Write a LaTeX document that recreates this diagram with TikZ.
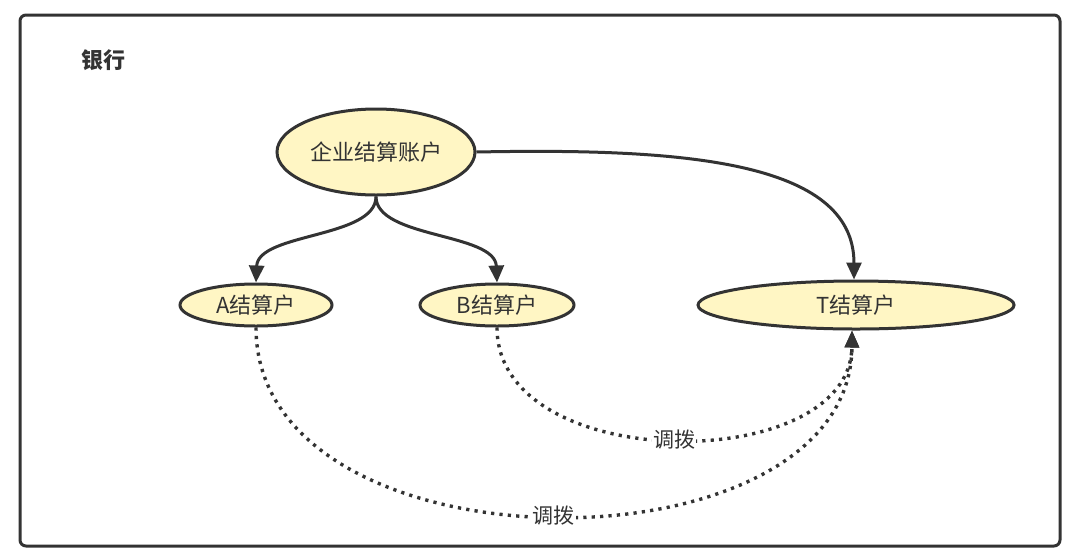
\documentclass[tikz,border=0pt]{standalone}
\usepackage{fontspec}
\setmainfont{Noto Sans CJK SC}
\usetikzlibrary{arrows.meta,shapes.geometric}
\definecolor{ink}{HTML}{333333}
\definecolor{fillY}{HTML}{FFF6C4}
\tikzset{
  acct/.style={ellipse,draw=ink,line width=3pt,fill=fillY,inner sep=0pt,font=\fontsize{22pt}{24pt}\selectfont,text=ink},
  flow/.style={draw=ink,line width=3pt,-{Triangle[length=17pt,width=15pt]}},
  xfer/.style={draw=ink,line width=3.4pt,dash pattern=on 3.2pt off 5.2pt,-{Triangle[length=17pt,width=14pt]}},
  lbl/.style={fill=white,inner sep=1pt,font=\fontsize{21pt}{23pt}\selectfont,text=ink}
}
\begin{document}
\begin{tikzpicture}[x=1pt,y=-1pt]
\useasboundingbox (0,0) rectangle (1080,558);
\draw[draw=ink,line width=3pt,rounded corners=6pt] (20,15) rectangle (1060,546);
\node[font=\bfseries\fontsize{22pt}{24pt}\selectfont,text=ink] (bank) at (103,60) {银行};
\node[acct,minimum width=198pt,minimum height=86pt] (E) at (376,152) {企业结算账户};
\node[acct,minimum width=152pt,minimum height=42pt] (A) at (256,305) {A结算户};
\node[acct,minimum width=154pt,minimum height=42pt] (B) at (497,305) {B结算户};
\node[acct,minimum width=316pt,minimum height=48pt] (T) at (856,305) {T结算户};
\draw[flow] (E.south) .. controls ++(0,42) and ++(2,-50) .. (A.north);
\draw[flow] (E.south) .. controls ++(0,42) and ++(-2,-50) .. (B.north);
\draw[flow] (E.east) .. controls (680,148) and ([xshift=-2pt]T.north |- 0,160) .. ([xshift=-2pt]T.north);
\coordinate (Tb) at ([xshift=-4pt]T.south);
\draw[xfer] (B.south) .. controls (497,476) and (851,476) .. (Tb)
  node[lbl,pos=0.5] (l1) {调拨};
\draw[xfer] (A.south) .. controls (256,578) and (851,578) .. (Tb)
  node[lbl,pos=0.5] (l2) {调拨};
\end{tikzpicture}
\end{document}
